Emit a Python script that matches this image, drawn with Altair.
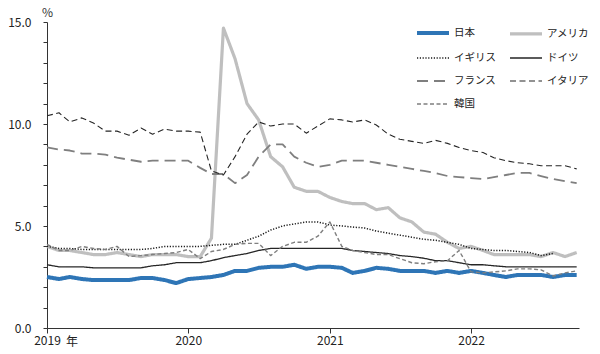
import altair as alt
import pandas as pd

months = pd.date_range("2019-01-01", periods=46, freq="MS")
countries = ["日本", "アメリカ", "イギリス", "ドイツ", "フランス", "イタリア", "韓国"]

japan = [2.5, 2.4, 2.5, 2.4, 2.35, 2.35, 2.35, 2.35, 2.45, 2.45, 2.35, 2.2,
         2.4, 2.45, 2.5, 2.6, 2.8, 2.8, 2.95, 3.0, 3.0, 3.1, 2.9, 3.0,
         3.0, 2.95, 2.7, 2.8, 2.95, 2.9, 2.8, 2.8, 2.8, 2.7, 2.8, 2.7,
         2.8, 2.7, 2.6, 2.5, 2.6, 2.6, 2.6, 2.5, 2.6, 2.6]
usa = [4.0, 3.8, 3.8, 3.7, 3.6, 3.6, 3.7, 3.6, 3.5, 3.6, 3.6, 3.6,
       3.5, 3.5, 4.4, 14.7, 13.2, 11.0, 10.2, 8.4, 7.9, 6.9, 6.7, 6.7,
       6.4, 6.2, 6.1, 6.1, 5.8, 5.9, 5.4, 5.2, 4.7, 4.6, 4.2, 3.9,
       4.0, 3.8, 3.6, 3.6, 3.6, 3.6, 3.5, 3.7, 3.5, 3.7]
uk = [4.0, 3.9, 3.9, 3.85, 3.85, 3.85, 3.85, 3.85, 3.85, 3.9, 4.0, 4.0,
      4.0, 4.0, 4.05, 4.1, 4.1, 4.3, 4.5, 4.8, 5.0, 5.1, 5.2, 5.2,
      5.05, 5.0, 4.95, 4.9, 4.75, 4.65, 4.55, 4.45, 4.35, 4.3, 4.2, 4.1,
      3.9, 3.85, 3.8, 3.8, 3.75, 3.7, 3.55, 3.65]
germany = [3.1, 3.0, 3.0, 3.0, 2.95, 2.95, 2.95, 2.95, 2.95, 3.05, 3.1, 3.2,
           3.2, 3.2, 3.3, 3.45, 3.55, 3.65, 3.8, 3.9, 3.9, 3.9, 3.9, 3.9,
           3.9, 3.9, 3.8, 3.75, 3.7, 3.65, 3.55, 3.5, 3.42, 3.3, 3.3, 3.2,
           3.1, 3.1, 3.05, 3.0, 3.0, 3.0, 3.0, 3.0, 3.0, 3.0]
france = [8.85, 8.75, 8.7, 8.55, 8.55, 8.5, 8.35, 8.25, 8.15, 8.2, 8.2, 8.2,
          8.2, 7.85, 7.55, 7.55, 7.1, 7.5, 8.4, 9.0, 9.0, 8.4, 8.1, 7.9,
          8.0, 8.2, 8.2, 8.2, 8.1, 8.0, 7.9, 7.8, 7.7, 7.6, 7.45, 7.4,
          7.35, 7.3, 7.4, 7.5, 7.6, 7.6, 7.45, 7.3, 7.2, 7.1]
italy = [10.4, 10.55, 10.1, 10.3, 10.05, 9.65, 9.65, 9.45, 9.8, 9.5, 9.75, 9.65,
         9.65, 9.6, 7.7, 7.5, 8.4, 9.5, 10.1, 9.9, 10.0, 10.0, 9.55, 9.9,
         10.25, 10.2, 10.1, 10.2, 9.95, 9.5, 9.25, 9.15, 9.05, 9.2, 9.05, 8.85,
         8.7, 8.6, 8.35, 8.2, 8.1, 8.05, 7.95, 7.95, 7.95, 7.8]
korea = [4.1, 3.8, 3.8, 4.0, 3.9, 3.85, 4.0, 3.5, 3.55, 3.6, 3.65, 3.7,
         3.85, 3.4, 3.75, 3.85, 4.1, 4.15, 4.15, 3.55, 4.0, 4.2, 4.2, 4.5,
         5.2, 4.0, 3.8, 3.7, 3.6, 3.6, 3.4, 3.2, 3.15, 3.25, 3.3, 3.8,
         2.75, 2.7, 2.75, 2.8, 2.9, 2.9, 2.85, 2.55, 2.7, 2.8]

y_ticks = list(range(0, 16))
x_ticks = ["2019-01-01", "2020-01-01", "2021-01-01", "2022-01-01"]

series = [japan, usa, uk, germany, france, italy, korea]
colors = ["#2E75B6", "#BFBFBF", "#1a1a1a", "#262626", "#7F7F7F", "#262626", "#7F7F7F"]
dashes = [[1, 0], [1, 0], [1.2, 1.6], [1, 0], [11, 6], [6, 3.5], [4, 2.5]]
widths = [4, 3.2, 1.5, 1.3, 1.8, 1.1, 1.4]

rows = []
for name, vals in zip(countries, series):
    for d, v in zip(months, vals):
        rows.append({"date": d, "country": name, "value": v})
df = pd.DataFrame(rows)

FONT = "Noto Sans CJK JP"

x_enc = alt.X("date:T",
              scale=alt.Scale(domain=["2019-01-01", "2022-10-07"]),
              axis=alt.Axis(values=x_ticks,
                            format="%Y", title=None, grid=False, tickSize=5,
                            labelFlush=False, labelOverlap=False,
                            labelPadding=2, labelFontSize=12, labelColor="#222",
                            domainColor="#333", tickColor="#333", labelFont=FONT))
y_enc = alt.Y("value:Q",
              scale=alt.Scale(domain=[0, 15], nice=False),
              axis=alt.Axis(values=y_ticks,
                            labelExpr="datum.value % 5 == 0 ? format(datum.value, '.1f') : ''",
                            labelOverlap=False, labelFlush=False, labelBound=False,
                            title="%", titleAngle=0, titleX=0, titleY=-10,
                            titleAlign="center", titleBaseline="middle",
                            titleFontWeight="normal", titleFontSize=12, titleColor="#333",
                            titleFont=FONT,
                            grid=False, tickSize=4, labelPadding=12, labelFontSize=12,
                            labelColor="#222", domainColor="#333", tickColor="#333",
                            labelFont=FONT))

legend = alt.Legend(title=None, orient="none", legendX=368, legendY=-7, columns=2,
                    direction="horizontal",
                    symbolType="stroke", symbolSize=1024, labelFontSize=10.5,
                    labelFont=FONT, labelColor="#222", rowPadding=-14, columnPadding=7,
                    labelOffset=3, padding=0)

lines = alt.Chart(df).mark_line(strokeCap="butt", strokeJoin="round").encode(
    x=x_enc,
    y=y_enc,
    color=alt.Color("country:N", scale=alt.Scale(domain=countries, range=colors), legend=legend),
    strokeDash=alt.StrokeDash("country:N", scale=alt.Scale(domain=countries, range=dashes), legend=legend),
    strokeWidth=alt.StrokeWidth("country:N",
                                scale=alt.Scale(type="ordinal", domain=countries, range=widths),
                                legend=legend),
    order=alt.Order("date:T"),
)

nen = alt.Chart(pd.DataFrame({"date": [pd.Timestamp("2019-01-01")], "t": ["年"]})).mark_text(
    font=FONT, fontSize=12, color="#222", dx=25, dy=14, baseline="middle"
).encode(x=alt.X("date:T"), y=alt.value(306), text="t:N")

chart = alt.layer(lines, nen).properties(
    width=532, height=306,
    padding={"left": 47, "top": 22, "right": 21, "bottom": 26},
    autosize=alt.AutoSizeParams(type="none"),
).configure_view(stroke=None).configure_axis(labelOverlap=False)

chart.save("out.html", embed_options={"renderer": "svg", "actions": False})
